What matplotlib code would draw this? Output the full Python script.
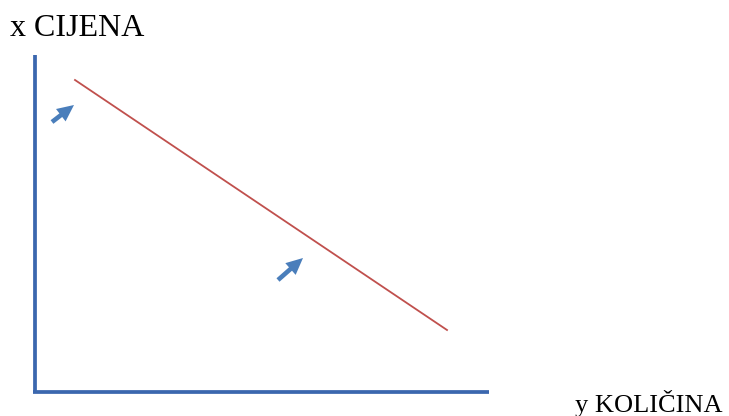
import matplotlib.pyplot as plt
from matplotlib.patches import FancyArrowPatch

# koordinate u pikselima slike (y prema dolje)
os_y_x = [35, 35]
os_y_y = [55, 393]
os_x_x = [33, 489]
os_x_y = [392, 392]

# pravac potražnje
potraznja_x = [75, 447]
potraznja_y = [80, 330]

# strelice (početak, kraj)
strelice = [((52, 122), (74, 105)),
            ((278, 280), (303, 258))]

plt.rcParams['font.family'] = ['Liberation Serif', 'DejaVu Serif']

fig = plt.figure(figsize=(7.29, 4.16), dpi=100)
ax = fig.add_axes([0, 0, 1, 1])
ax.set_xlim(0, 729)
ax.set_ylim(416, 0)
ax.axis('off')

plava = '#3B67AE'
ax.plot(os_y_x, os_y_y, color=plava, lw=2.7, solid_capstyle='butt')
ax.plot(os_x_x, os_x_y, color=plava, lw=2.7, solid_capstyle='butt')
ax.plot(potraznja_x, potraznja_y, color='#C0504D', lw=1.3)

for (p0, p1) in strelice:
    ax.add_patch(FancyArrowPatch(p0, p1, arrowstyle='simple,head_length=0.8,head_width=0.75,tail_width=0.22',
                                 mutation_scale=15, color='#4A7EBB', lw=0, shrinkA=0, shrinkB=0))

ax.text(10, 36, 'x CIJENA', fontsize=23, ha='left', va='baseline')
ax.text(575, 412, 'y KOLIČINA', fontsize=19, ha='left', va='baseline')

fig.savefig('out.png', dpi=100)
